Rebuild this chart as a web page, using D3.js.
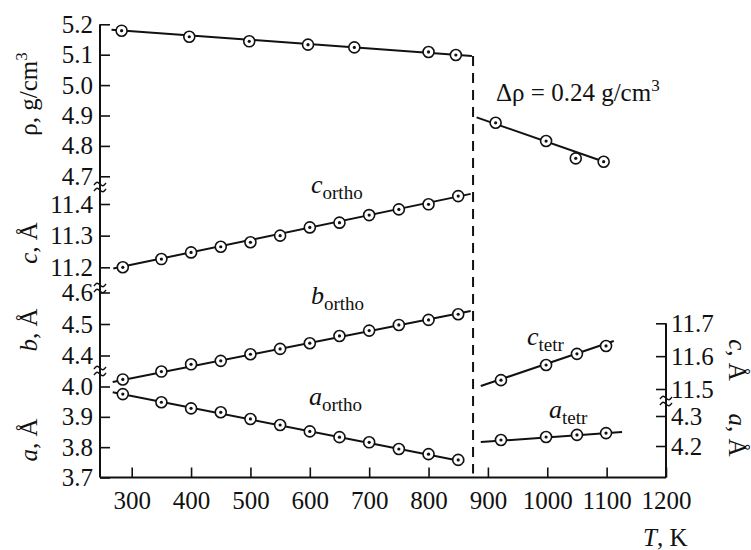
<!DOCTYPE html>
<html>
<head>
<meta charset="utf-8">
<script src="https://cdn.jsdelivr.net/npm/d3@7"></script>
<style>
  body { margin: 0; background: #fff; }
  svg text { fill: #111; }
</style>
</head>
<body>
<script>
// temperatures (K)
var T_ortho = [285, 350, 400, 450, 500, 550, 600, 650, 700, 750, 800, 850];
var T_rho_ortho = [283, 397, 498, 597, 675, 800, 846];
var T_rho_tetr = [913, 998, 1048, 1095];
var T_tetr = [922, 998, 1050, 1099];

// measured values
var rho_ortho = [5.179, 5.159, 5.144, 5.133, 5.124, 5.109, 5.099];
var rho_tetr = [4.876, 4.816, 4.759, 4.748];
var c_ortho = [11.200, 11.226, 11.247, 11.265, 11.279, 11.300, 11.326, 11.341, 11.365, 11.383, 11.399, 11.425];
var b_ortho = [4.324, 4.349, 4.372, 4.383, 4.404, 4.421, 4.439, 4.462, 4.479, 4.497, 4.513, 4.531];
var a_ortho = [3.975, 3.948, 3.928, 3.915, 3.893, 3.873, 3.852, 3.833, 3.816, 3.794, 3.777, 3.758];
var c_tetr = [11.527, 11.573, 11.607, 11.631];
var a_tetr = [4.220, 4.230, 4.237, 4.243];

// straight fitted lines [T, value] at both ends
var fit_rho_ortho = [[266, 5.182], [873, 5.096]];
var fit_c_ortho = [[269, 11.196], [871, 11.432]];
var fit_b_ortho = [[268, 4.316], [871, 4.541]];
var fit_a_ortho = [[268, 3.981], [860, 3.752]];
var fit_rho_tetr = [[881, 4.894], [1097, 4.747]];
var fit_c_tetr = [[888, 11.509], [1112, 11.646]];
var fit_a_tetr = [[888, 4.213], [1126, 4.247]];

var T_jump = 875;

var xTicks = [300, 400, 500, 600, 700, 800, 900, 1000, 1100, 1200];
var rhoTicks = [4.7, 4.8, 4.9, 5.0, 5.1, 5.2];
var cTicks = [11.2, 11.3, 11.4];
var bTicks = [4.4, 4.5, 4.6];
var aTicks = [3.7, 3.8, 3.9, 4.0];
var ctTicks = [11.5, 11.6, 11.7];
var atTicks = [4.2, 4.3];

var svg = d3.select("body").append("svg")
  .attr("width", 751)
  .attr("height", 550)

var x = d3.scaleLinear().domain([246.6, 1200]).range([100, 666]);
var yRho = d3.scaleLinear().domain([4.7, 5.2]).range([176.3, 24.3]);
var yC = d3.scaleLinear().domain([11.2, 11.4]).range([267.3, 204]);
var yB = d3.scaleLinear().domain([4.4, 4.6]).range([355.5, 292.5]);
var yA = d3.scaleLinear().domain([3.7, 4.0]).range([477.5, 386.5]);
var yCt = d3.scaleLinear().domain([11.5, 11.7]).range([389, 323.3]);
var yAt = d3.scaleLinear().domain([4.2, 4.3]).range([446, 416]);

var fs = 25;
var serif = "'Liberation Serif', 'DejaVu Serif', 'Nimbus Roman', 'Nimbus Roman No9 L', Tinos, FreeSerif, 'Noto Serif', Times, 'Times New Roman', serif";

// axis lines
svg.append("line").attr("x1", 100).attr("x2", 100).attr("y1", yRho(5.2)).attr("y2", yA(3.7))
  .attr("stroke", "#111").attr("stroke-width", 2);
svg.append("line").attr("x1", 100).attr("x2", 666).attr("y1", yA(3.7)).attr("y2", yA(3.7))
  .attr("stroke", "#111").attr("stroke-width", 2);
svg.append("line").attr("x1", 666).attr("x2", 666).attr("y1", yCt(11.7)).attr("y2", yA(3.7))
  .attr("stroke", "#111").attr("stroke-width", 2);

function leftAxis(scale, ticks, fmt) {
  var g = svg.append("g").attr("transform", "translate(100,0)")
    .call(d3.axisLeft(scale).tickValues(ticks).tickFormat(d3.format(fmt)).tickSize(-10).tickPadding(7));
  g.attr("font-family", serif);
  g.select(".domain").remove();
  g.selectAll("line").attr("stroke", "#111").attr("stroke-width", 1.6);
  g.selectAll("text").attr("font-size", fs).attr("fill", "#111");
}
leftAxis(yRho, rhoTicks, ".1f");
leftAxis(yC, cTicks, ".1f");
leftAxis(yB, bTicks, ".1f");
leftAxis(yA, aTicks, ".1f");

function rightAxis(scale, ticks) {
  var g = svg.append("g").attr("transform", "translate(666,0)")
    .call(d3.axisRight(scale).tickValues(ticks).tickFormat(d3.format(".1f")).tickSize(-10).tickPadding(5));
  g.attr("font-family", serif);
  g.select(".domain").remove();
  g.selectAll("line").attr("stroke", "#111").attr("stroke-width", 1.6);
  g.selectAll("text").attr("font-size", fs).attr("fill", "#111");
}
rightAxis(yCt, ctTicks);
rightAxis(yAt, atTicks);

var gx = svg.append("g").attr("transform", "translate(0," + yA(3.7) + ")")
  .call(d3.axisBottom(x).tickValues(xTicks).tickFormat(d3.format("d")).tickSize(-10).tickPadding(14));
gx.attr("font-family", serif);
gx.select(".domain").remove();
gx.selectAll("line").attr("stroke", "#111").attr("stroke-width", 1.6);
gx.selectAll("text").attr("font-size", fs).attr("fill", "#111")
  .attr("dy", "0.71em");

// axis breaks
function brk(cx, cy) {
  [-3, 3].forEach(function(o) {
    svg.append("path")
      .attr("d", d3.line().curve(d3.curveBasis)([[cx - 6, cy + o + 1], [cx - 3, cy + o - 3], [cx, cy + o], [cx + 3, cy + o + 3], [cx + 6, cy + o - 1]]))
      .attr("fill", "none").attr("stroke", "#111").attr("stroke-width", 1.5);
  });
}
brk(100, 187);
brk(100, 288);
brk(100, 371);
brk(666, 401);

// dashed transition line
svg.append("line").attr("x1", x(T_jump)).attr("x2", x(T_jump))
  .attr("y1", yRho(5.096)).attr("y2", yA(3.7) - 4)
  .attr("stroke", "#111").attr("stroke-width", 2).attr("stroke-dasharray", "10,7");

function series(T, vals, fit, scale) {
  svg.append("path")
    .attr("d", d3.line().x(function(d) { return x(d[0]); }).y(function(d) { return scale(d[1]); })(fit))
    .attr("fill", "none").attr("stroke", "#111").attr("stroke-width", 2);
  var pts = T.map(function(t, i) { return [t, vals[i]]; });
  svg.selectAll(null).data(pts).enter().append("circle")
    .attr("cx", function(d) { return x(d[0]); }).attr("cy", function(d) { return scale(d[1]); })
    .attr("r", 5.5).attr("fill", "#fff").attr("stroke", "#111").attr("stroke-width", 1.6);
  svg.selectAll(null).data(pts).enter().append("circle")
    .attr("cx", function(d) { return x(d[0]); }).attr("cy", function(d) { return scale(d[1]); })
    .attr("r", 1.6).attr("fill", "#111");
}
series(T_rho_ortho, rho_ortho, fit_rho_ortho, yRho);
series(T_ortho, c_ortho, fit_c_ortho, yC);
series(T_ortho, b_ortho, fit_b_ortho, yB);
series(T_ortho, a_ortho, fit_a_ortho, yA);
series(T_rho_tetr, rho_tetr, fit_rho_tetr, yRho);
series(T_tetr, c_tetr, fit_c_tetr, yCt);
series(T_tetr, a_tetr, fit_a_tetr, yAt);

// series labels
function lab(px, py, main, sub) {
  var t = svg.append("text").attr("x", px).attr("y", py).attr("font-size", 26).attr("font-family", serif);
  t.append("tspan").attr("font-style", "italic").text(main);
  t.append("tspan").attr("font-size", 19).attr("dy", 6).text(sub);
}
lab(311, 193, "c", "ortho");
lab(311, 304, "b", "ortho");
lab(309, 405, "a", "ortho");
lab(527, 345, "c", "tetr");
lab(549, 418, "a", "tetr");

var dr = svg.append("text").attr("x", 496).attr("y", 101).attr("font-size", fs).attr("font-family", serif);
dr.append("tspan").text("\u0394\u03c1 = 0.24 g/cm");
dr.append("tspan").attr("font-size", 17).attr("dy", -10).text("3");

// axis titles
function ytitle(px, py, rot, main, rest, sup) {
  var t = svg.append("text").attr("transform", "translate(" + px + "," + py + ") rotate(" + rot + ")")
    .attr("text-anchor", "middle").attr("font-size", fs).attr("font-family", serif);
  if (main) t.append("tspan").attr("font-style", "italic").text(main);
  t.append("tspan").text(rest);
  if (sup) t.append("tspan").attr("font-size", 17).attr("dy", -10).text(sup);
}
ytitle(37, 94, -90, null, "\u03c1, g/cm", "3");
ytitle(37, 243, -90, "c", ", \u00c5");
ytitle(37, 330, -90, "b", ", \u00c5");
ytitle(37, 440, -90, "a", ", \u00c5");
ytitle(729, 360, 90, "c", ", \u00c5");
ytitle(729, 435, 90, "a", ", \u00c5");

var tk = svg.append("text").attr("x", 643).attr("y", 546).attr("font-size", fs).attr("font-family", serif);
tk.append("tspan").attr("font-style", "italic").text("T");
tk.append("tspan").text(", K");
</script>
</body>
</html>
